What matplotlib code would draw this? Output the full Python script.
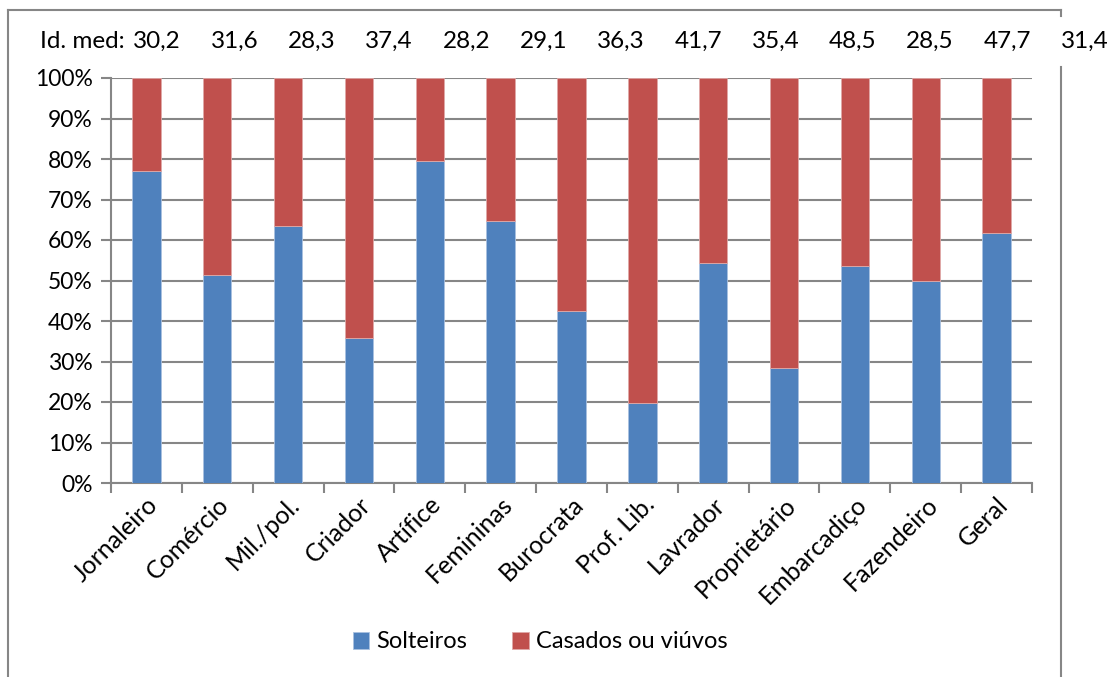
import matplotlib
matplotlib.use("Agg")
import matplotlib.pyplot as plt
from matplotlib.lines import Line2D
from matplotlib.ticker import PercentFormatter

plt.rcParams['font.family'] = ['Lato', 'DejaVu Sans']

# categories and shares (fraction of single people)
categorias = ["Jornaleiro", "Comércio", "Mil./pol.", "Criador", "Artífice", "Femininas",
              "Burocrata", "Prof. Lib.", "Lavrador", "Proprietário", "Embarcadiço",
              "Fazendeiro", "Geral"]
solteiros = [0.770, 0.513, 0.635, 0.357, 0.796, 0.646, 0.424, 0.197, 0.544, 0.285,
             0.537, 0.499, 0.617]
casados = [1 - s for s in solteiros]
idade_media = ["30,2", "31,6", "28,3", "37,4", "28,2", "29,1", "36,3", "41,7", "35,4",
               "48,5", "28,5", "47,7", "31,4"]

grey = "#868686"
fs = 18

fig = plt.figure(figsize=(11.11, 6.77), dpi=100)
ax = fig.add_axes([111/1111, 1 - 483/677, 921/1111, 405/677])

x = range(len(categorias))
ax.bar(x, solteiros, width=0.4, color="#4F81BD", edgecolor="#a9c1e0", linewidth=0.6,
       label="Solteiros", zorder=3)
ax.bar(x, casados, width=0.4, bottom=solteiros, color="#C0504D", edgecolor="#e0a9a8",
       linewidth=0.6, label="Casados ou viúvos", zorder=3)

ax.set_xlim(-0.5, len(categorias) - 0.5)
ax.set_ylim(0, 1)
ax.set_yticks([i / 10 for i in range(11)])
ax.yaxis.set_major_formatter(PercentFormatter(1.0, decimals=0))
ax.grid(axis="y", color=grey, linewidth=1.5, zorder=0)

ax.set_xticks([i - 0.5 for i in range(len(categorias) + 1)], minor=False)
ax.set_xticklabels([])
ax.set_xticks(list(x), minor=True)
ax.set_xticklabels(categorias, minor=True, rotation=45, ha="right", va="top",
                   rotation_mode="anchor", fontsize=fs)
ax.tick_params(axis="x", which="minor", length=0, pad=7)
ax.tick_params(axis="x", which="major", length=7, width=1.5, color=grey, direction="out")
ax.tick_params(axis="y", length=7, width=1.5, color=grey, labelsize=16.5, pad=6)

for s in ["top", "right"]:
    ax.spines[s].set_visible(False)
for s in ["left", "bottom"]:
    ax.spines[s].set_color(grey)
    ax.spines[s].set_linewidth(1.5)

# mean age row
fig.text(40/1111, 1 - 41/677, "Id. med:", fontsize=17.5, ha="left", va="center")
for i, v in enumerate(idade_media):
    fig.text((157 + 77.3 * i) / 1111, 1 - 41/677, v, fontsize=17.5, ha="center", va="center")

# outer frame
fig.add_artist(Line2D([8/1111, 1061/1111], [1 - 10/677, 1 - 10/677], color=grey, lw=1.5))
fig.add_artist(Line2D([8/1111, 8/1111], [0, 1 - 10/677], color=grey, lw=1.5))
fig.add_artist(Line2D([1061/1111, 1061/1111], [0, 1 - 67/677], color=grey, lw=1.5))
fig.add_artist(Line2D([1061/1111, 1061/1111], [1 - 10/677, 1 - 16/677], color=grey, lw=1.5))

fig.legend(loc="center", bbox_to_anchor=(540/1111, 1 - 642/677), ncol=2, frameon=False,
           fontsize=17, handlelength=0.7, handleheight=0.7, handletextpad=0.3,
           columnspacing=1.9)

fig.savefig("out.png", dpi=100)
